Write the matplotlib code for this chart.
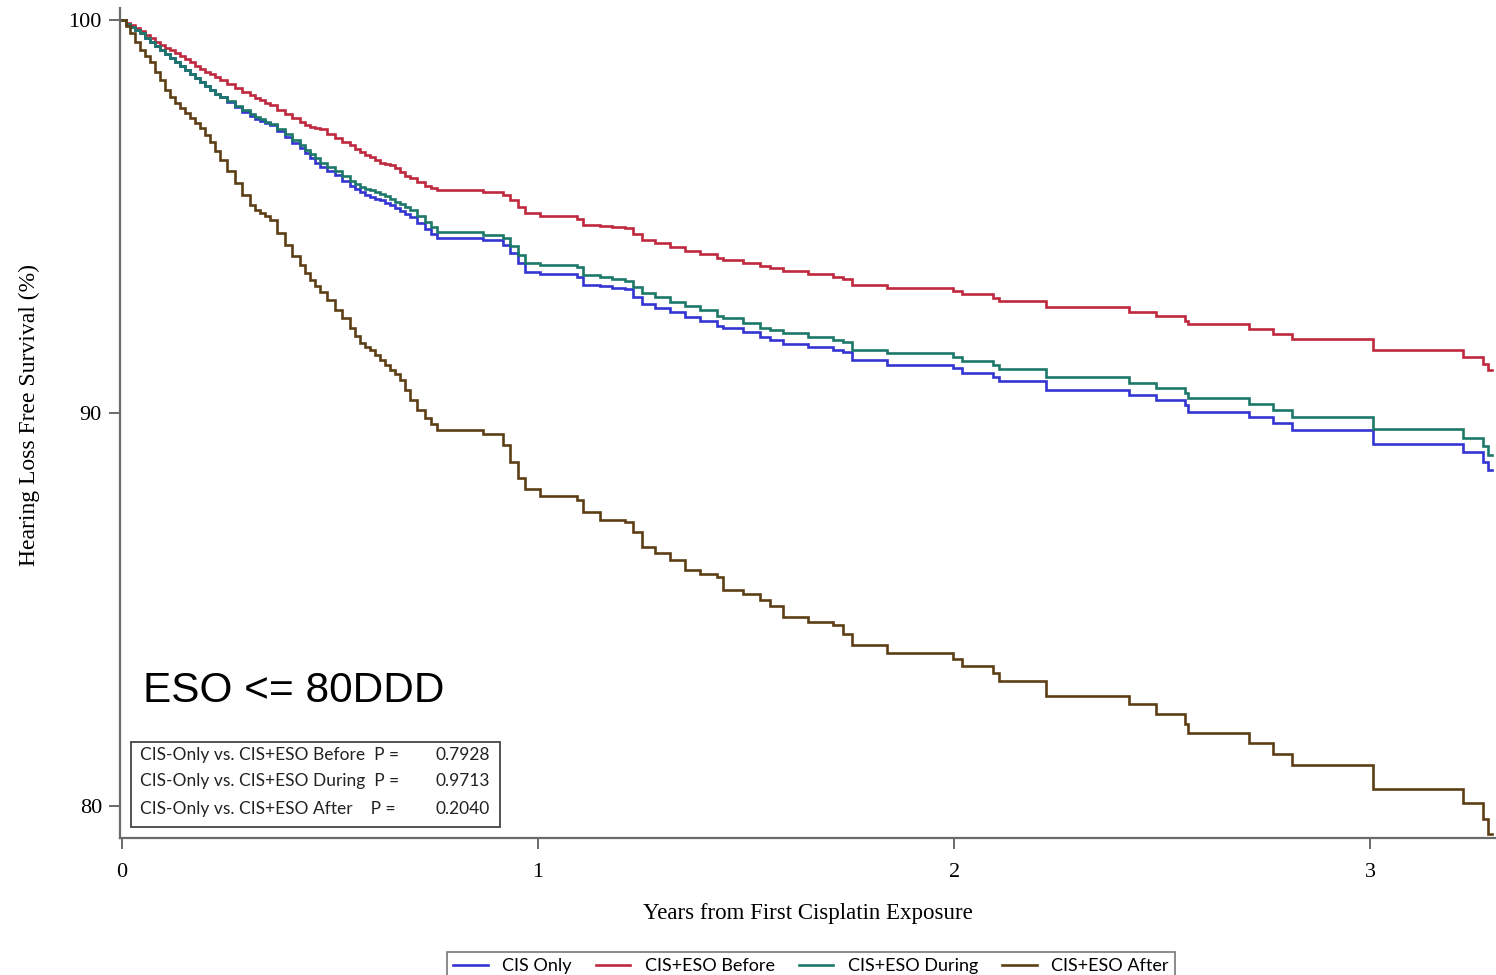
import matplotlib
matplotlib.use("Agg")
import matplotlib.pyplot as plt
from matplotlib.lines import Line2D
from matplotlib.patches import Rectangle

# ---------------- data ----------------
years = [0.000, 0.019, 0.043, 0.067, 0.091, 0.115, 0.139, 0.163, 0.188, 0.212,
         0.236, 0.272, 0.308, 0.332, 0.356, 0.392, 0.428, 0.452, 0.476, 0.512,
         0.548, 0.572, 0.596, 0.620, 0.644, 0.668, 0.692, 0.728, 0.757, 0.868,
         0.916, 0.933, 0.952, 0.969, 1.005, 1.094, 1.108, 1.149, 1.178, 1.209,
         1.228, 1.250, 1.281, 1.317, 1.353, 1.389, 1.430, 1.445, 1.493, 1.534,
         1.558, 1.589, 1.649, 1.709, 1.733, 1.755, 1.839, 1.998, 2.019, 2.094,
         2.108, 2.221, 2.421, 2.486, 2.555, 2.562, 2.709, 2.767, 2.812, 3.007,
         3.224, 3.272, 3.284, 3.293]

cis_only = [100.00, 99.82, 99.67, 99.44, 99.24, 99.03, 98.83, 98.63, 98.42, 98.22,
            98.04, 97.79, 97.56, 97.43, 97.33, 97.02, 96.74, 96.49, 96.26, 96.06,
            95.78, 95.62, 95.50, 95.42, 95.29, 95.14, 94.99, 94.68, 94.47, 94.40,
            94.27, 94.07, 93.82, 93.60, 93.54, 93.47, 93.26, 93.23, 93.18, 93.15,
            92.95, 92.79, 92.67, 92.57, 92.44, 92.34, 92.21, 92.16, 92.06, 91.93,
            91.86, 91.77, 91.68, 91.60, 91.55, 91.35, 91.22, 91.14, 91.03, 90.92,
            90.82, 90.60, 90.46, 90.33, 90.20, 90.03, 89.89, 89.74, 89.57, 89.21,
            89.00, 88.76, 88.55, 88.55]

eso_before = [100.00, 99.87, 99.72, 99.54, 99.36, 99.24, 99.08, 98.93, 98.75, 98.63,
              98.47, 98.27, 98.09, 97.96, 97.84, 97.61, 97.40, 97.28, 97.23, 97.00,
              96.82, 96.64, 96.51, 96.36, 96.31, 96.13, 95.98, 95.78, 95.69, 95.63,
              95.55, 95.42, 95.24, 95.09, 95.01, 94.95, 94.78, 94.76, 94.73, 94.70,
              94.55, 94.40, 94.33, 94.22, 94.12, 94.05, 93.94, 93.91, 93.82, 93.74,
              93.69, 93.62, 93.54, 93.46, 93.41, 93.26, 93.19, 93.11, 93.03, 92.94,
              92.86, 92.69, 92.58, 92.48, 92.35, 92.26, 92.14, 92.01, 91.88, 91.60,
              91.43, 91.26, 91.09, 91.09]

eso_during = [100.00, 99.82, 99.67, 99.44, 99.24, 99.03, 98.83, 98.63, 98.42, 98.22,
              98.04, 97.81, 97.61, 97.48, 97.35, 97.10, 96.82, 96.59, 96.36, 96.16,
              95.90, 95.75, 95.67, 95.57, 95.45, 95.32, 95.17, 94.86, 94.61, 94.53,
              94.45, 94.25, 94.02, 93.81, 93.77, 93.71, 93.51, 93.46, 93.41, 93.37,
              93.21, 93.05, 92.95, 92.82, 92.72, 92.62, 92.47, 92.41, 92.29, 92.16,
              92.11, 92.03, 91.93, 91.86, 91.81, 91.62, 91.53, 91.43, 91.33, 91.22,
              91.12, 90.91, 90.78, 90.65, 90.52, 90.39, 90.23, 90.08, 89.91, 89.59,
              89.38, 89.16, 88.93, 88.93]

eso_after = [100.00, 99.67, 99.24, 98.93, 98.47, 98.04, 97.76, 97.51, 97.25, 96.90,
             96.44, 95.85, 95.29, 95.09, 94.91, 94.27, 93.77, 93.38, 93.08, 92.62,
             92.16, 91.78, 91.60, 91.35, 91.09, 90.84, 90.33, 89.87, 89.57, 89.48,
             89.19, 88.75, 88.35, 88.08, 87.89, 87.79, 87.49, 87.28, 87.28, 87.23,
             86.97, 86.60, 86.44, 86.26, 86.01, 85.90, 85.83, 85.51, 85.41, 85.24,
             85.09, 84.82, 84.69, 84.61, 84.39, 84.10, 83.91, 83.74, 83.56, 83.38,
             83.19, 82.80, 82.59, 82.34, 82.10, 81.85, 81.60, 81.32, 81.04, 80.43,
             80.09, 79.67, 79.28, 79.28]

# additional readings in the dense early part of the curves (first ~0.75 years)
early_years = [0.010, 0.031, 0.055, 0.079, 0.103, 0.127, 0.151, 0.175, 0.200, 0.224,
               0.252, 0.288, 0.320, 0.344, 0.373, 0.409, 0.440, 0.464, 0.493, 0.529,
               0.560, 0.584, 0.608, 0.632, 0.656, 0.680, 0.709, 0.743]
early_cis_only = [99.90, 99.75, 99.54, 99.34, 99.13, 98.93, 98.73, 98.52, 98.32, 98.12,
                  97.91, 97.66, 97.48, 97.38, 97.18, 96.87, 96.62, 96.36, 96.16, 95.90,
                  95.70, 95.55, 95.45, 95.34, 95.22, 95.06, 94.83, 94.55]
early_eso_before = [99.92, 99.80, 99.62, 99.44, 99.29, 99.16, 99.01, 98.83, 98.68, 98.55,
                    98.37, 98.17, 98.02, 97.89, 97.71, 97.51, 97.33, 97.25, 97.10, 96.90,
                    96.72, 96.56, 96.44, 96.34, 96.23, 96.03, 95.88, 95.73]
early_eso_during = [99.90, 99.75, 99.54, 99.34, 99.13, 98.93, 98.73, 98.52, 98.32, 98.12,
                    97.94, 97.71, 97.53, 97.40, 97.23, 96.95, 96.69, 96.49, 96.26, 96.03,
                    95.83, 95.70, 95.62, 95.52, 95.37, 95.24, 95.01, 94.73]
early_eso_after = [99.85, 99.44, 99.08, 98.68, 98.22, 97.89, 97.63, 97.38, 97.07, 96.67,
                   96.16, 95.55, 95.17, 95.01, 94.58, 94.00, 93.56, 93.23, 92.88, 92.42,
                   91.96, 91.68, 91.48, 91.22, 90.99, 90.59, 90.08, 89.72]

series_labels = ["CIS Only", "CIS+ESO Before", "CIS+ESO During", "CIS+ESO After"]
series_values = [cis_only, eso_before, eso_during, eso_after]
series_early = [early_cis_only, early_eso_before, early_eso_during, early_eso_after]
colors = ["#3434d2", "#c0283e", "#1c7868", "#5c3e14"]

comparisons = ["CIS-Only vs. CIS+ESO Before  P =",
               "CIS-Only vs. CIS+ESO During  P =",
               "CIS-Only vs. CIS+ESO After    P ="]
p_values = [0.7928, 0.9713, 0.2040]

x_ticks = [0, 1, 2, 3]
y_ticks = [80, 90, 100]

# ---------------- figure ----------------
W, H = 1496, 975
fig = plt.figure(figsize=(W / 100, H / 100), dpi=100)
ax = fig.add_axes([120 / W, 137 / H, 1375 / W, 830 / H])

for vals, early, lab, col in zip(series_values, series_early, series_labels, colors):
    pts = sorted(list(zip(years, vals)) + list(zip(early_years, early)))
    tx = [p[0] for p in pts]
    sy = [p[1] for p in pts]
    ax.plot(tx, sy, drawstyle="steps-post", color=col, lw=1.9,
            label=lab, solid_joinstyle="miter")

ax.set_xlim(-0.005, 3.30)
ax.set_ylim(79.19, 100.31)
ax.set_xticks(x_ticks)
ax.set_yticks(y_ticks)

serif = "Liberation Serif"
sans_small = "Lato"

for s in ["top", "right"]:
    ax.spines[s].set_visible(False)
for s in ["left", "bottom"]:
    ax.spines[s].set_color("#6a6a6a")
    ax.spines[s].set_linewidth(1.6)

ax.tick_params(axis="both", direction="out", length=8, width=1.4,
               color="#6a6a6a", labelsize=16)
ax.tick_params(axis="x", pad=10)
ax.tick_params(axis="y", pad=5)
for lbl in ax.get_xticklabels() + ax.get_yticklabels():
    lbl.set_fontfamily(serif)

ax.set_xlabel("Years from First Cisplatin Exposure", fontsize=16.5,
              fontfamily=serif, va="center")
ax.xaxis.set_label_coords(0.5, -0.091)
ax.set_ylabel("Hearing Loss Free Survival (%)", fontsize=17,
              fontfamily=serif, va="center")
ax.yaxis.set_label_coords(-0.066, 0.51)

# big annotation
ax.text(0.0167, 0.164, "ESO <= 80DDD", transform=ax.transAxes,
        fontsize=30.5, fontfamily="Liberation Sans", ha="left",
        va="baseline", color="black")

# p-value box
ax.add_patch(Rectangle((0.008, 0.0133), 0.2684, 0.1024, transform=ax.transAxes,
                       fill=False, edgecolor="#444444", lw=1.3, zorder=5))
row_y = [0.100, 0.0681, 0.0349]
for cmp_txt, pv, yy in zip(comparisons, p_values, row_y):
    ax.text(0.01455, yy, cmp_txt, transform=ax.transAxes, fontsize=12.5,
            fontfamily=sans_small, ha="left", va="center", color="#222222")
    ax.text(0.2691, yy, f"{pv:.4f}", transform=ax.transAxes, fontsize=12.5,
            fontfamily=sans_small, ha="right", va="center", color="#222222")

# legend at the bottom
handles = [Line2D([0], [0], color=c, lw=1.9) for c in colors]
leg = fig.legend(handles, series_labels, loc="upper center",
                 bbox_to_anchor=(811 / W, 1 - 952 / H), ncol=4,
                 frameon=True, fancybox=False, edgecolor="#555555",
                 prop={"family": sans_small, "size": 13},
                 handlelength=1.9, handletextpad=0.8, columnspacing=1.35,
                 borderpad=0.35, borderaxespad=0)
leg.get_frame().set_linewidth(1.2)

fig.savefig("out.png", dpi=100)
